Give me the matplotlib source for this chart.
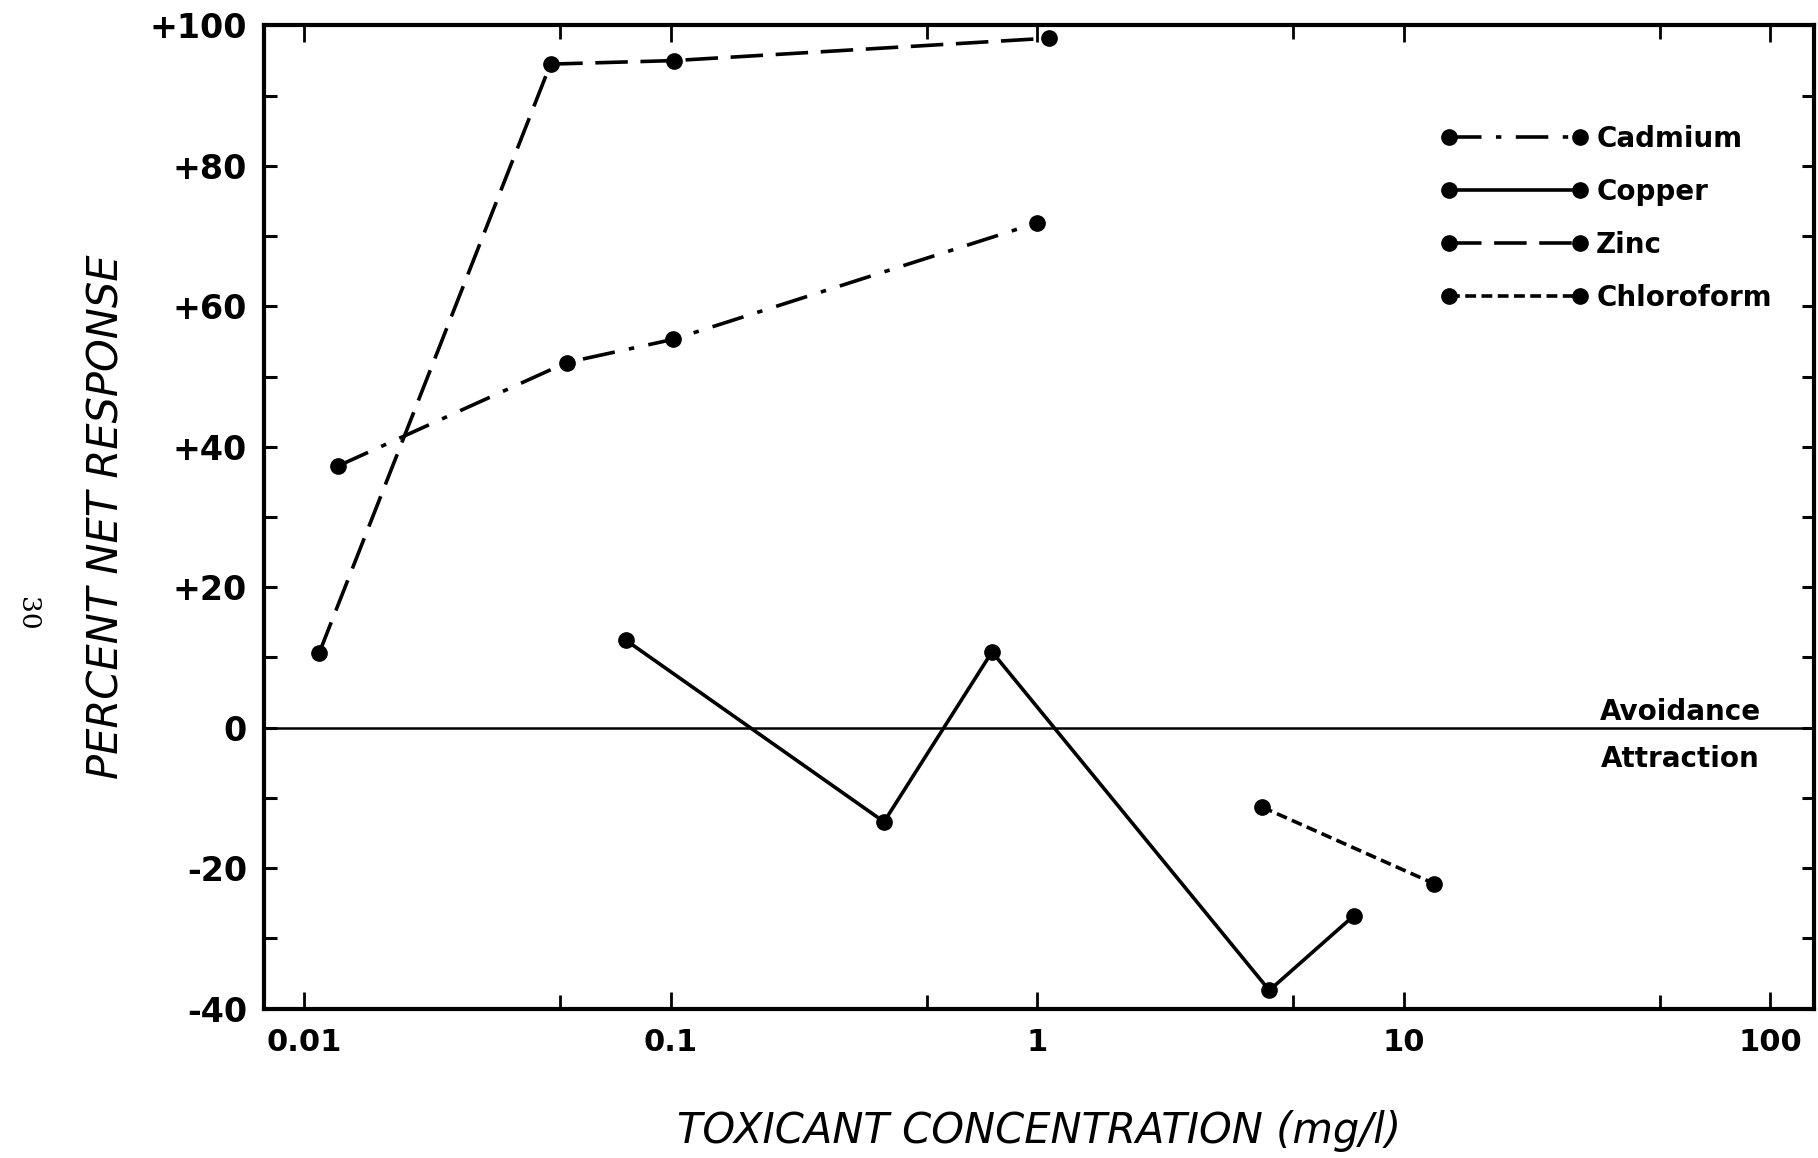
import matplotlib
matplotlib.use("Agg")
import matplotlib.pyplot as plt
import matplotlib.ticker as mticker

# values
cadmium_x = [0.0124, 0.052, 0.1015, 1.0]
cadmium_y = [37.3, 52.0, 55.3, 71.9]

copper_x = [0.0753, 0.382, 0.753, 4.3, 7.3]
copper_y = [12.5, -13.4, 10.8, -37.4, -26.8]

zinc_x = [0.011, 0.047, 0.102, 1.08]
zinc_y = [10.7, 94.5, 95.0, 98.2]

chloro_x = [4.11, 12.1]
chloro_y = [-11.3, -22.2]

xticks = [0.01, 0.1, 1, 10, 100]
xticklabels = ["0.01", "0.1", "1", "10", "100"]
xminor = [0.05, 0.5, 5, 50]
yticks = [-40, -20, 0, 20, 40, 60, 80, 100]
yticklabels = ["-40", "-20", "0", "+20", "+40", "+60", "+80", "+100"]

plt.rcParams['font.family'] = ['DejaVu Sans']

fig = plt.figure(figsize=(18.18, 11.58), dpi=100)
ax = fig.add_axes([0.145, 0.129, 0.853, 0.849])

lw = 2.6
ms = 11
ax.plot(cadmium_x, cadmium_y, color='black', lw=lw, marker='o', ms=ms,
        dashes=(9, 4, 1.5, 4), label='Cadmium')
ax.plot(copper_x, copper_y, color='black', lw=lw, marker='o', ms=ms,
        linestyle='-', label='Copper')
ax.plot(zinc_x, zinc_y, color='black', lw=lw, marker='o', ms=ms,
        dashes=(9, 3.5), label='Zinc')
ax.plot(chloro_x, chloro_y, color='black', lw=lw, marker='o', ms=ms,
        dashes=(3, 1.5), label='Chloroform')

ax.axhline(0, color='black', lw=1.8)

ax.set_xscale('log')
ax.set_xlim(0.00775, 132)
ax.set_ylim(-40, 100)

ax.set_xticks(xticks)
ax.set_xticklabels(xticklabels)
ax.xaxis.set_minor_locator(mticker.FixedLocator(xminor))
ax.xaxis.set_minor_formatter(mticker.NullFormatter())
ax.set_yticks(yticks)
ax.set_yticklabels(yticklabels)
ax.yaxis.set_minor_locator(mticker.MultipleLocator(10))

ax.tick_params(axis='x', which='major', direction='in', length=12, width=2,
               top=True, pad=14, labelsize=22)
ax.tick_params(axis='x', which='minor', direction='in', length=10, width=2,
               top=True)
ax.tick_params(axis='y', which='both', direction='in', length=9, width=2.2,
               right=True, pad=12, labelsize=24)
for lab in ax.get_yticklabels():
    lab.set_fontweight('bold')
for lab in ax.get_xticklabels():
    lab.set_fontweight('bold')

for sp in ax.spines.values():
    sp.set_linewidth(3)

ax.set_xlabel('TOXICANT CONCENTRATION (mg/l)', fontsize=30, style='italic',
              labelpad=38)
ax.set_ylabel('PERCENT NET RESPONSE', fontsize=30, style='italic',
              labelpad=16)

ax.text(57, 0.3, 'Avoidance', ha='center', va='bottom', fontsize=20,
        fontweight='bold')
ax.text(57, -2.5, 'Attraction', ha='center', va='top', fontsize=20,
        fontweight='bold')

fig.text(0.015, 0.47, '30', rotation=270, fontsize=19, family='DejaVu Serif',
         ha='center', va='center')

ax.legend(loc='upper left', bbox_to_anchor=(0.759, 0.899), numpoints=2,
          frameon=False, handlelength=5.3, handletextpad=0.3,
          labelspacing=0.9, borderpad=0, borderaxespad=0,
          prop={'weight': 'bold', 'size': 20})

fig.savefig('out.png', dpi=100)
